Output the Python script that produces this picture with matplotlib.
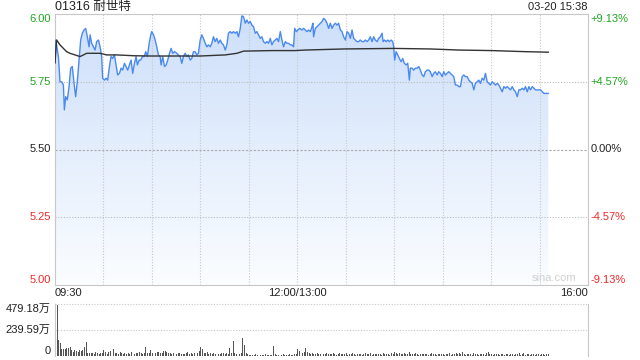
import numpy as np
import matplotlib.pyplot as plt
from matplotlib.colors import LinearSegmentedColormap
from matplotlib.patches import Polygon

plt.rcParams['font.family'] = ['Liberation Sans', 'Noto Sans CJK SC', 'DejaVu Sans']

title = '01316 耐世特'
stamp = '03-20 15:38'
pre_close = 5.50
price_ticks = [6.00, 5.75, 5.50, 5.25, 5.00]
price_labels = ['6.00', '5.75', '5.50', '5.25', '5.00']
pct_labels = ['+9.13%', '+4.57%', '0.00%', '-4.57%', '-9.13%']
time_pos = [0, 150, 330]
time_labels = ['09:30', '12:00/13:00', '16:00']
vol_max = 479.18
vol_ticks = [479.18, 239.59, 0]
vol_labels = ['479.18万', '239.59万', '0']

# minutes since 09:30 (lunch break removed) and price
price_min = [
    0.0, 0.5, 2.1, 3.1, 4.1, 5.2, 5.8, 6.6, 7.6, 8.7, 9.7, 10.7, 11.8, 12.8, 13.8,
    14.9, 15.9, 16.9, 18.0, 19.0, 20.0, 21.1, 21.7, 22.7, 23.8, 24.8, 25.8, 26.9,
    27.9, 28.9, 29.5, 30.6, 31.6, 32.6, 33.7, 34.7, 35.7, 36.8, 37.8, 38.8, 39.9,
    40.9, 41.9, 43.0, 44.0, 45.0, 46.1, 47.1, 48.1, 49.2, 50.2, 51.0, 52.1, 53.1,
    54.1, 55.2, 56.2, 57.2, 58.3, 59.3, 59.9, 61.0, 62.0, 63.0, 64.0, 65.1, 65.7,
    66.7, 67.8, 68.8, 69.8, 70.9, 71.9, 72.9, 74.0,
    75.4, 76.4, 77.5, 78.5, 79.5, 80.6, 81.6, 82.6, 83.7, 84.7, 85.7, 86.8, 87.8,
    88.8, 89.9, 90.9, 91.9, 93.0, 94.0, 95.0, 96.1, 97.1, 98.1, 99.2, 100.2, 101.2,
    102.3, 103.3, 104.3, 105.4, 106.4, 107.4, 108.5, 109.5, 110.5, 111.6, 112.6,
    113.6, 114.7, 115.7, 116.7, 117.8, 118.8, 119.8, 120.9, 121.9, 122.9, 124.0,
    125.0, 126.0, 127.1, 128.1, 129.1, 130.2, 131.2, 132.2, 133.3, 134.3, 135.3,
    136.4, 137.4, 138.4, 139.5, 140.5, 141.5, 142.6, 143.6, 144.6, 145.7, 146.7,
    147.7, 148.4, 149.4, 150.4, 151.4,
    152.9, 153.9, 155.0, 156.0, 157.0, 158.1, 159.1, 159.7, 160.1, 161.2, 162.2,
    163.2, 164.3, 165.3, 166.3, 167.4, 168.4, 169.4, 170.5, 171.5, 172.5, 173.6,
    174.6, 175.6, 176.7, 177.7, 178.7, 179.8, 180.8, 181.8, 182.9, 183.9, 184.9,
    186.0, 187.0, 188.0, 189.0, 190.1, 191.1, 192.1, 193.2, 194.2, 195.2, 196.3,
    197.3, 198.3, 199.4, 200.4, 201.4, 202.5, 203.1, 204.0, 205.0, 206.0, 207.0,
    208.1, 209.1, 209.7, 210.3, 211.2, 212.2, 213.2, 214.3, 215.3, 216.3, 217.4,
    218.4, 219.4, 220.0, 221.1, 222.1, 223.1, 224.2, 225.2, 226.2, 227.3, 228.3,
    229.3, 230.4, 231.4, 232.4, 233.5, 234.5, 235.5, 236.6, 237.6, 238.6, 239.7,
    240.7, 241.7, 242.8, 243.8, 244.8, 245.9, 246.9, 247.9, 249.0, 250.0, 251.0,
    252.1, 253.1, 254.1, 255.2, 256.2, 257.2, 258.3, 259.3, 260.3, 261.4, 262.4,
    263.4, 264.5, 265.5, 266.5, 267.6, 268.6, 269.6, 270.7, 271.7, 272.7, 273.8,
    274.8, 275.8, 276.9, 277.9, 278.9, 280.0, 281.0, 282.0, 283.1, 284.1, 285.1,
    286.2, 287.2, 288.2, 289.3, 290.3, 291.3, 292.4, 293.4, 294.4, 295.5, 296.5,
    297.5, 298.6, 299.6, 300.6, 301.7, 302.7, 303.7, 304.8, 305.4,
]
price = [
    5.820, 5.904, 5.843, 5.750, 5.750, 5.738, 5.646, 5.695, 5.683, 5.732, 5.800,
    5.806, 5.744, 5.695, 5.750, 5.830, 5.904, 5.929, 5.941, 5.947, 5.916, 5.879,
    5.923, 5.892, 5.879, 5.867, 5.898, 5.904, 5.879, 5.843, 5.763, 5.756, 5.763,
    5.756, 5.806, 5.843, 5.836, 5.849, 5.812, 5.775, 5.781, 5.800, 5.793, 5.818,
    5.806, 5.793, 5.812, 5.830, 5.781, 5.818, 5.843, 5.812, 5.830, 5.830, 5.843,
    5.843, 5.861, 5.843, 5.892, 5.923, 5.935, 5.923, 5.904, 5.879, 5.849, 5.843,
    5.812, 5.843, 5.806, 5.812, 5.830, 5.855, 5.873, 5.855, 5.861,
    5.855, 5.849, 5.843, 5.818, 5.843, 5.855, 5.843, 5.849, 5.830, 5.836, 5.861,
    5.861, 5.849, 5.855, 5.904, 5.923, 5.910, 5.892, 5.879, 5.886, 5.879, 5.892,
    5.916, 5.898, 5.910, 5.892, 5.904, 5.892, 5.886, 5.867, 5.886, 5.929, 5.935,
    5.929, 5.935, 5.929, 5.935, 5.916, 5.947, 5.993, 5.990, 5.966, 5.978, 5.966,
    5.972, 5.959, 5.953, 5.929, 5.935, 5.923, 5.910, 5.916, 5.898, 5.892, 5.898,
    5.892, 5.910, 5.886, 5.898, 5.904, 5.910, 5.898, 5.935, 5.904, 5.879, 5.898,
    5.892, 5.892, 5.886, 5.886, 5.879, 5.947, 5.935, 5.941, 5.947,
    5.941, 5.947, 5.941, 5.935, 5.941, 5.935, 5.953, 5.966, 5.916, 5.947, 5.953,
    5.959, 5.966, 5.972, 5.984, 5.978, 5.966, 5.947, 5.966, 5.947, 5.959, 5.966,
    5.959, 5.966, 5.941, 5.935, 5.916, 5.904, 5.935, 5.929, 5.910, 5.941, 5.910,
    5.904, 5.898, 5.898, 5.904, 5.898, 5.898, 5.904, 5.898, 5.904, 5.916, 5.898,
    5.916, 5.904, 5.898, 5.910, 5.916, 5.929, 5.898, 5.904, 5.898, 5.904, 5.898,
    5.904, 5.898, 5.879, 5.830, 5.861, 5.849, 5.836, 5.824, 5.836, 5.818, 5.812,
    5.818, 5.756, 5.800, 5.800, 5.793, 5.800, 5.800, 5.806, 5.793, 5.775, 5.769,
    5.787, 5.793, 5.793, 5.787, 5.769, 5.781, 5.787, 5.775, 5.787, 5.781, 5.769,
    5.787, 5.775, 5.781, 5.787, 5.781, 5.775, 5.769, 5.738, 5.738, 5.732, 5.732,
    5.769, 5.775, 5.769, 5.769, 5.756, 5.750, 5.744, 5.720, 5.744, 5.750, 5.756,
    5.744, 5.763, 5.756, 5.781, 5.750, 5.744, 5.738, 5.750, 5.744, 5.738, 5.744,
    5.738, 5.726, 5.713, 5.732, 5.726, 5.732, 5.726, 5.720, 5.732, 5.720, 5.713,
    5.695, 5.720, 5.720, 5.726, 5.720, 5.732, 5.713, 5.732, 5.720, 5.732, 5.726,
    5.720, 5.720, 5.720, 5.720, 5.713, 5.707, 5.707, 5.707, 5.707,
]

# average price line
avg_min = [0, 1.0, 3.1, 5.2, 7.2, 9.3, 12.4, 15.5, 17.6, 19.6, 23.8, 27.9, 32.0,
           38.2, 48.6, 58.9, 77.5, 89.9, 105.4, 112.6, 115.7, 116.7, 134.3,
           148.4, 155.0, 178.7, 209.7, 232.4, 250.0, 270.7, 291.3, 305.4]
avg_price = [5.820, 5.904, 5.886, 5.873, 5.861, 5.855, 5.849, 5.843, 5.849,
             5.855, 5.855, 5.855, 5.849, 5.849, 5.846, 5.845, 5.845, 5.845,
             5.849, 5.855, 5.861, 5.863, 5.865, 5.865, 5.867, 5.871, 5.873,
             5.871, 5.867, 5.865, 5.861, 5.859]

# volume per minute (万)
volume = [
    439, 470, 147, 117, 64, 61, 64, 71, 77, 83, 55, 40, 55, 46, 40, 55, 50, 55, 86, 132,
    25, 30, 25, 28, 22, 35, 25, 20, 30, 25, 55, 40, 20, 35, 45, 30, 60, 25, 30, 20,
    40, 25, 20, 30, 18, 25, 20, 35, 22, 20, 30, 25, 40, 30, 20, 25, 86, 30, 25, 55,
    30, 20, 25, 35, 40, 25, 30, 50, 45, 40, 25, 30, 20, 25, 18, 20, 25, 30, 20, 15,
    20, 25, 40, 20, 25, 18, 30, 20, 25, 50, 86, 60, 30, 25, 40, 20, 25, 18, 30, 20,
    25, 20, 15, 25, 30, 20, 25, 18, 77, 25, 141, 30, 20, 25, 18, 30, 169, 101, 25, 15,
    10, 12, 8, 10, 15, 12, 10, 8, 12, 10, 15, 10, 12, 8, 10, 95, 15, 12, 10, 8,
    12, 15, 10, 8, 12, 15, 10, 12, 20, 15,
    64, 45, 30, 25, 40, 77, 35, 30, 20, 25, 15, 20, 25, 18, 20, 30, 22, 18, 25, 15,
    20, 15, 25, 18, 12, 20, 30, 15, 22, 18, 25, 12, 15, 20, 28, 15, 12, 18, 22, 15,
    12, 20, 25, 15, 18, 30, 12, 15, 20, 18, 22, 15, 12, 25, 18, 15, 20, 12, 28, 15,
    35, 25, 20, 30, 18, 22, 25, 15, 20, 40, 22, 18, 15, 25, 20, 12, 18, 22, 15, 20,
    18, 12, 15, 25, 20, 15, 12, 18, 22, 15, 20, 12, 15, 18, 25, 12, 15, 20, 30, 18,
    25, 15, 35, 20, 12, 18, 15, 22, 12, 28, 15, 18, 12, 20, 15, 18, 12, 25, 40, 18,
    15, 12, 20, 15, 18, 12, 22, 15, 12, 18, 20, 12, 15, 18, 12, 20, 15, 28, 12, 15,
    30, 12, 18, 15, 12, 20, 15, 12, 18, 22, 12, 15, 18, 12, 15, 20,
]

GREEN = '#1fa51f'
RED = '#ee2828'
GRID = '#c8c8c8'


def col(v, base):
    if v > base:
        return GREEN
    if v < base:
        return RED
    return '#222222'


fig = plt.figure(figsize=(6.4, 3.6), dpi=100)
ax = fig.add_axes([55 / 640, 1 - 285 / 360, 533 / 640, 271 / 360])

# gradient area under the price line
verts = [(price_min[0], 5.0)] + list(zip(price_min, price)) + [(price_min[-1], 5.0)]
patch = Polygon(verts, closed=True, facecolor='none', edgecolor='none')
ax.add_patch(patch)
cmap = LinearSegmentedColormap.from_list('blu', ['#fbfdff', '#cddffa'])
grad = np.linspace(1, 0, 256).reshape(-1, 1)
im = ax.imshow(grad, extent=[0, 330, 5.0, 6.0], aspect='auto', cmap=cmap,
               origin='upper', zorder=1)
im.set_clip_path(patch)

for x in range(30, 330, 30):
    ax.axvline(x, color=GRID, lw=0.8, ls=(0, (1, 1.5)), zorder=2)
for y in [5.25, 5.75]:
    ax.axhline(y, color='#bbbbbb', lw=0.8, ls=(0, (1, 1.5)), zorder=2)
ax.axhline(pre_close, color='#aaaaaa', lw=0.8, ls=(0, (2, 1.5)), zorder=2)

ax.plot(price_min, price, color='#4a8af0', lw=1.0, zorder=3)
ax.plot(avg_min, avg_price, color='#333333', lw=1.0, zorder=4)

ax.set_xlim(0, 330)
ax.set_ylim(5.0, 6.0)
ax.set_xticks([])
ax.set_yticks([])
for s in ax.spines.values():
    s.set_color(GRID)
    s.set_linewidth(0.8)

yt = ax.get_yaxis_transform()
for i, (v, lab, pl) in enumerate(zip(price_ticks, price_labels, pct_labels)):
    va = 'top' if i == 0 else ('bottom' if i == len(price_ticks) - 1 else 'center')
    c = col(v, pre_close)
    ax.text(-0.008, v, lab, transform=yt, ha='right', va=va, fontsize=8, color=c)
    ax.text(1.005, v, pl, transform=yt, ha='left', va=va, fontsize=8, color=c)

xt = ax.get_xaxis_transform()
for p, lab, ha in zip(time_pos, time_labels, ['left', 'center', 'right']):
    ax.text(p, -0.03, lab, transform=xt, ha=ha, va='center', fontsize=8, color='#222222')

ax.text(0.978, 0.008, 'sina.com', transform=ax.transAxes, ha='right', va='bottom',
        fontsize=8, color='#d0d0d0')

fig.text(55 / 640, 1 - 7 / 360, title, ha='left', va='center', fontsize=9, color='#222222')
fig.text(587 / 640, 1 - 7 / 360, stamp, ha='right', va='center', fontsize=8, color='#222222')

# volume panel
vax = fig.add_axes([55 / 640, 1 - 356 / 360, 533 / 640, 52 / 360])
vax.bar(np.arange(len(volume)), volume, width=0.6, align='edge', color='#555555')
vax.set_xlim(0, 330)
vax.set_ylim(0, vol_max)
vax.set_xticks([])
vax.set_yticks([])
for y in vol_ticks[:2]:
    vax.axhline(y, color=GRID, lw=0.8, ls=(0, (1, 1.5)), clip_on=False)
vax.spines['top'].set_visible(False)
vax.spines['bottom'].set_visible(False)
for k in ['left', 'right']:
    vax.spines[k].set_color(GRID)
    vax.spines[k].set_linewidth(0.8)

vt = vax.get_yaxis_transform()
for i, (v, lab) in enumerate(zip(vol_ticks, vol_labels)):
    va = 'top' if i == 0 else ('bottom' if i == len(vol_ticks) - 1 else 'center')
    vax.text(-0.008, v, lab, transform=vt, ha='right', va=va, fontsize=8, color='#222222')

fig.savefig('out.png', dpi=100)
